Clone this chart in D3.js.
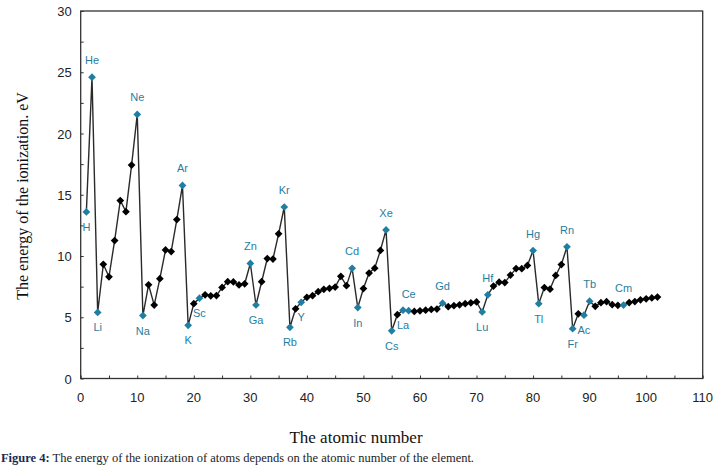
<!DOCTYPE html>
<html>
<head>
<meta charset="utf-8">
<script src="https://cdn.jsdelivr.net/npm/d3@7"></script>
<style>
  body { margin: 0; background: #fff; }
  svg { display: block; }
</style>
</head>
<body>
<div id="chart"></div>
<script>
// 1: DATA
// first ionization energy (eV) for atomic numbers 1..102
const atomicNumbers = d3.range(1, 103);
const energies = [
  13.6, 24.6, 5.39, 9.32, 8.3, 11.26, 14.53, 13.62, 17.42, 21.56,
  5.14, 7.65, 5.99, 8.15, 10.49, 10.36, 12.97, 15.76, 4.34, 6.11,
  6.56, 6.83, 6.75, 6.77, 7.43, 7.9, 7.88, 7.64, 7.73, 9.39,
  6.0, 7.9, 9.79, 9.75, 11.81, 14.0, 4.18, 5.69, 6.22, 6.63,
  6.76, 7.09, 7.28, 7.36, 7.46, 8.34, 7.58, 8.99, 5.79, 7.34,
  8.61, 9.01, 10.45, 12.13, 3.89, 5.21, 5.58, 5.54, 5.47, 5.53,
  5.58, 5.64, 5.67, 6.15, 5.86, 5.94, 6.02, 6.11, 6.18, 6.25,
  5.43, 6.83, 7.55, 7.86, 7.83, 8.44, 8.97, 8.96, 9.23, 10.44,
  6.11, 7.42, 7.29, 8.41, 9.3, 10.75, 4.07, 5.28, 5.17, 6.31,
  5.89, 6.19, 6.27, 6.03, 5.97, 5.99, 6.2, 6.28, 6.42, 6.5,
  6.58, 6.65
];

// labelled elements (highlighted points)
const labelNumbers = [1, 2, 3, 10, 11, 18, 19, 21, 30, 31, 36, 37, 39, 48, 49, 54, 55, 57, 58, 64, 71, 72, 80, 81, 86, 87, 89, 90, 96];
const labelNames = ["H", "He", "Li", "Ne", "Na", "Ar", "K", "Sc", "Zn", "Ga", "Kr", "Rb", "Y", "Cd", "In", "Xe", "Cs", "La", "Ce", "Gd", "Lu", "Hf", "Hg", "Tl", "Rn", "Fr", "Ac", "Tb", "Cm"];

const xTicks = d3.range(0, 111, 10);
const yTicks = d3.range(0, 31, 5);

// labels drawn under their point (others go above)
const below = new Set(["H", "Li", "Na", "K", "Sc", "Ga", "Rb", "Y", "In", "Cs", "La", "Lu", "Tl", "Fr", "Ac"]);

// 2: SETUP
const W = 718, H = 476;
const plot = { left: 80.7, right: 702.7, top: 11, bottom: 378.5 };
const blue = "#1f7ea1";

const svg = d3.select("#chart").append("svg")
  .attr("width", W)
  .attr("height", H);

const x = d3.scaleLinear().domain([0, 110]).range([plot.left, plot.right]);
const y = d3.scaleLinear().domain([0, 30]).range([plot.bottom, plot.top]);

const points = atomicNumbers.map((n, i) => ({ n: n, e: energies[i] }));
const labels = labelNumbers.map((n, i) => ({ n: n, name: labelNames[i], e: energies[n - 1] }));

// frame
svg.append("rect")
  .attr("x", plot.left).attr("y", plot.top)
  .attr("width", plot.right - plot.left)
  .attr("height", plot.bottom - plot.top)
  .attr("fill", "none")
  .attr("stroke", "#333")
  .attr("stroke-width", 1.3);

// 3: AXES (ticks pointing inward)
const xAxis = svg.append("g")
  .attr("transform", `translate(0,${plot.bottom})`)
  .call(d3.axisBottom(x).tickValues(d3.range(0, 111, 5)).tickSize(-3).tickFormat(""));
xAxis.select(".domain").remove();
xAxis.selectAll("line").attr("stroke", "#333");

const yAxis = svg.append("g")
  .attr("transform", `translate(${plot.left},0)`)
  .call(d3.axisLeft(y).tickValues(d3.range(0, 30.1, 2.5)).tickSize(-3).tickFormat(""));
yAxis.select(".domain").remove();
yAxis.selectAll("line").attr("stroke", "#333");

svg.append("g").selectAll("text")
  .data(xTicks).enter().append("text")
  .attr("x", d => x(d))
  .attr("y", plot.bottom + 23)
  .attr("text-anchor", "middle")
  .attr("font-family", "Liberation Sans, Arial, sans-serif")
  .attr("font-size", 13)
  .attr("fill", "#222")
  .text(d => d);

svg.append("g").selectAll("text")
  .data(yTicks).enter().append("text")
  .attr("x", plot.left - 9)
  .attr("y", d => y(d) + 5)
  .attr("text-anchor", "end")
  .attr("font-family", "Liberation Sans, Arial, sans-serif")
  .attr("font-size", 13)
  .attr("fill", "#222")
  .text(d => d);

// 4: LINE + MARKERS
const line = d3.line()
  .x(d => x(d.n))
  .y(d => y(d.e));

svg.append("path")
  .datum(points)
  .attr("d", line)
  .attr("fill", "none")
  .attr("stroke", "#2a2a2a")
  .attr("stroke-width", 1.4);

// square turned 45 degrees, as in the figure
const diamond = d3.symbol().type(d3.symbolSquare).size(30);
const isLabelled = new Set(labelNumbers);

svg.append("g").selectAll("path")
  .data(points).enter().append("path")
  .attr("transform", d => `translate(${x(d.n)},${y(d.e)}) rotate(45)`)
  .attr("d", diamond)
  .attr("fill", d => isLabelled.has(d.n) ? blue : "#000");

// 5: ELEMENT LABELS
svg.append("g").selectAll("text")
  .data(labels).enter().append("text")
  .attr("x", d => x(d.n))
  .attr("y", d => y(d.e) + (below.has(d.name) ? 19 : -13))
  .attr("text-anchor", "middle")
  .attr("font-family", "Liberation Sans, Arial, sans-serif")
  .attr("font-size", 11)
  .attr("fill", blue)
  .text(d => d.name);

// 6: AXIS TITLES + CAPTION
svg.append("text")
  .attr("x", 356)
  .attr("y", 443)
  .attr("text-anchor", "middle")
  .attr("font-family", "Liberation Serif, Times New Roman, serif")
  .attr("font-size", 17)
  .attr("fill", "#111")
  .text("The atomic number");

svg.append("text")
  .attr("transform", "translate(28,196) rotate(-90)")
  .attr("text-anchor", "middle")
  .attr("font-family", "Liberation Serif, Times New Roman, serif")
  .attr("font-size", 16)
  .attr("fill", "#111")
  .text("The energy of the ionization. eV");

const caption = svg.append("text")
  .attr("x", 1)
  .attr("y", 462)
  .attr("font-family", "Liberation Serif, Times New Roman, serif")
  .attr("font-size", 12)
  .attr("fill", "#222")
  .attr("textLength", 473)
  .attr("lengthAdjust", "spacingAndGlyphs");
caption.append("tspan")
  .attr("font-weight", "bold")
  .attr("fill", "#1c2a50")
  .text("Figure 4:");
caption.append("tspan")
  .text(" The energy of the ionization of atoms depends on the atomic number of the element.");
</script>
</body>
</html>
